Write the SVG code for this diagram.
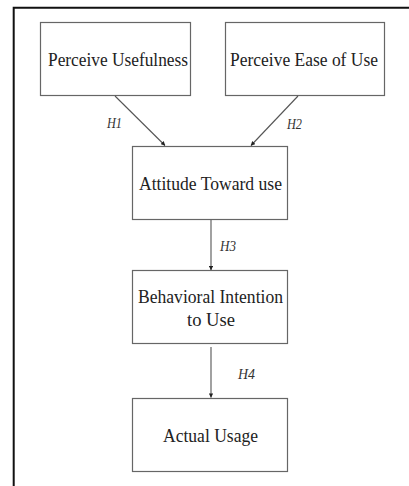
<svg xmlns="http://www.w3.org/2000/svg" width="409" height="486" viewBox="0 0 409 486">
  <style>
    .frame { fill: none; stroke: #111; stroke-width: 2; }
    .box rect { fill: #fff; stroke: #666; stroke-width: 1.2; }
    .box text { font-family: "Liberation Serif", "Times New Roman", serif; font-size: 19px; fill: #222; text-anchor: middle; }
    .edge { stroke: #555; stroke-width: 1.1; fill: none; marker-end: url(#tip); }
    .lbl { font-family: "Liberation Serif", "Times New Roman", serif; font-size: 14px; font-style: italic; fill: #333; }
  </style>
  <defs>
    <marker id="tip" viewBox="0 0 6 6" refX="5.5" refY="3" markerWidth="4" markerHeight="4" orient="auto">
      <path d="M0,0 L6,3 L0,6 z" fill="#222"/>
    </marker>
  </defs>
  <rect width="409" height="486" fill="#fff"/>
  <!-- outer frame, open to the right and bottom -->
  <path class="frame" d="M13.7,486 V7.7 H409"/>

  <g id="pu" class="box">
    <rect x="40.5" y="22.5" width="150" height="73"/>
    <text x="118" y="66" textLength="140" lengthAdjust="spacingAndGlyphs">Perceive Usefulness</text>
  </g>
  <g id="peou" class="box">
    <rect x="225.5" y="22.5" width="159" height="73"/>
    <text x="304" y="66" textLength="148" lengthAdjust="spacingAndGlyphs">Perceive Ease of Use</text>
  </g>
  <g id="atu" class="box">
    <rect x="132.5" y="146.5" width="155" height="73"/>
    <text x="210.5" y="190" textLength="143" lengthAdjust="spacingAndGlyphs">Attitude Toward use</text>
  </g>
  <g id="bi" class="box">
    <rect x="132.5" y="270.5" width="155" height="73"/>
    <text x="210.5" y="303" textLength="145" lengthAdjust="spacingAndGlyphs">Behavioral Intention</text>
    <text x="211" y="326" textLength="48" lengthAdjust="spacingAndGlyphs">to Use</text>
  </g>
  <g id="au" class="box">
    <rect x="132.5" y="398.5" width="155" height="73"/>
    <text x="210.5" y="442" textLength="95" lengthAdjust="spacingAndGlyphs">Actual Usage</text>
  </g>

  <g id="connectors">
    <line class="edge" x1="115" y1="96" x2="165" y2="145.5"/>
    <line class="edge" x1="298" y1="96" x2="251" y2="145.5"/>
    <line class="edge" x1="211" y1="220" x2="211" y2="270"/>
    <line class="edge" x1="211" y1="347" x2="211" y2="397.5"/>
    <text class="lbl" x="107" y="128" textLength="15" lengthAdjust="spacingAndGlyphs">H1</text>
    <text class="lbl" x="287" y="129" textLength="15" lengthAdjust="spacingAndGlyphs">H2</text>
    <text class="lbl" x="220" y="251" textLength="16" lengthAdjust="spacingAndGlyphs">H3</text>
    <text class="lbl" x="238" y="379" textLength="17" lengthAdjust="spacingAndGlyphs">H4</text>
  </g>
</svg>
